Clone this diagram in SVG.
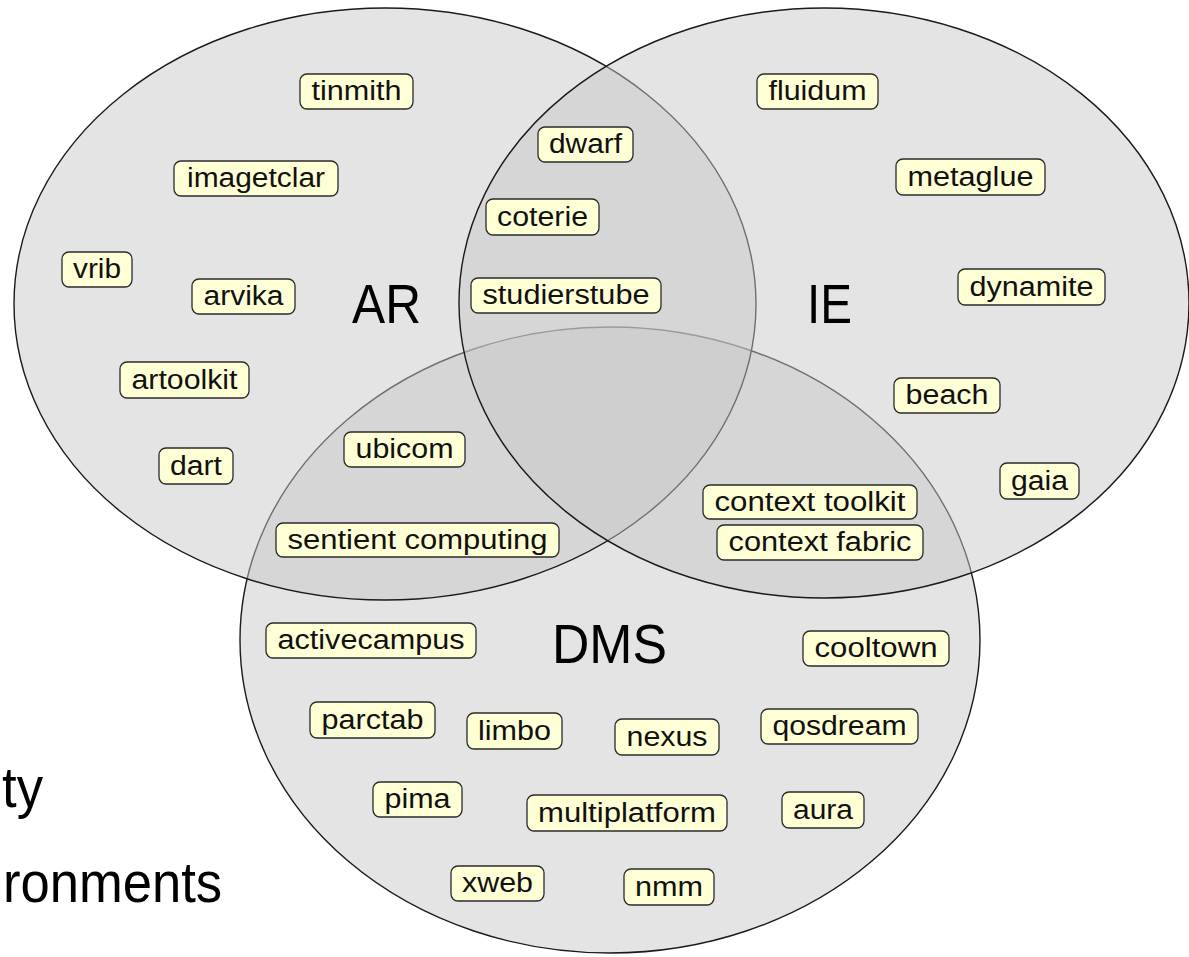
<svg xmlns="http://www.w3.org/2000/svg" width="1189" height="957" viewBox="0 0 1189 957">
<style>
.set{fill:#c8c8c8;fill-opacity:0.49;stroke:#1a1a1a;stroke-width:1.4}
.box{fill:#ffffd6;stroke:#2a2a2a;stroke-width:1.3}
.lbl{font-family:"Liberation Sans",Arial,sans-serif;font-size:27px;fill:#111;text-anchor:middle}
.big{font-family:"Liberation Sans",Arial,sans-serif;font-size:56px;fill:#000}
.side{font-family:"Liberation Sans",Arial,sans-serif;font-size:58px;fill:#000}
</style>
<rect width="1189" height="957" fill="#ffffff"/>
<g id="sets">
<ellipse id="DMS" class="set" cx="610" cy="640" rx="370" ry="313"/>
<ellipse id="AR" class="set" cx="385" cy="304" rx="371" ry="296"/>
<ellipse id="IE" class="set" cx="824" cy="303" rx="365" ry="295"/>
</g>
<g id="set-titles">
<text class="big" x="352" y="323" textLength="69" lengthAdjust="spacingAndGlyphs">AR</text>
<text class="big" x="807" y="323" textLength="45" lengthAdjust="spacingAndGlyphs">IE</text>
<text class="big" x="552" y="663" textLength="115" lengthAdjust="spacingAndGlyphs">DMS</text>
</g>
<g id="side-text">
<text class="side" x="2" y="807" textLength="41" lengthAdjust="spacingAndGlyphs">ty</text>
<text class="side" x="3" y="902" textLength="219" lengthAdjust="spacingAndGlyphs">ronments</text>
</g>
<g id="connectors"/>
<g id="n-tinmith"><rect class="box" x="300" y="74" width="113" height="35" rx="7"/><text class="lbl" x="356.5" y="100" textLength="90" lengthAdjust="spacingAndGlyphs">tinmith</text></g>
<g id="n-imagetclar"><rect class="box" x="174" y="161" width="164" height="35" rx="7"/><text class="lbl" x="256" y="187" textLength="138" lengthAdjust="spacingAndGlyphs">imagetclar</text></g>
<g id="n-vrib"><rect class="box" x="62" y="252" width="70" height="35" rx="7"/><text class="lbl" x="97" y="278" textLength="48" lengthAdjust="spacingAndGlyphs">vrib</text></g>
<g id="n-arvika"><rect class="box" x="192" y="279" width="103" height="35" rx="7"/><text class="lbl" x="243.5" y="305" textLength="80" lengthAdjust="spacingAndGlyphs">arvika</text></g>
<g id="n-artoolkit"><rect class="box" x="120" y="362" width="129" height="36" rx="7"/><text class="lbl" x="184.5" y="389" textLength="106" lengthAdjust="spacingAndGlyphs">artoolkit</text></g>
<g id="n-dart"><rect class="box" x="159" y="448" width="74" height="36" rx="7"/><text class="lbl" x="196" y="475" textLength="52" lengthAdjust="spacingAndGlyphs">dart</text></g>
<g id="n-dwarf"><rect class="box" x="538" y="127" width="95" height="35" rx="7"/><text class="lbl" x="585.5" y="153" textLength="73" lengthAdjust="spacingAndGlyphs">dwarf</text></g>
<g id="n-coterie"><rect class="box" x="486" y="199" width="113" height="36" rx="7"/><text class="lbl" x="542.5" y="226" textLength="91" lengthAdjust="spacingAndGlyphs">coterie</text></g>
<g id="n-studierstube"><rect class="box" x="471" y="278" width="190" height="35" rx="7"/><text class="lbl" x="566" y="304" textLength="167" lengthAdjust="spacingAndGlyphs">studierstube</text></g>
<g id="n-fluidum"><rect class="box" x="757" y="74" width="121" height="35" rx="7"/><text class="lbl" x="817.5" y="100" textLength="98" lengthAdjust="spacingAndGlyphs">fluidum</text></g>
<g id="n-metaglue"><rect class="box" x="896" y="159" width="149" height="36" rx="7"/><text class="lbl" x="970.5" y="186" textLength="126" lengthAdjust="spacingAndGlyphs">metaglue</text></g>
<g id="n-dynamite"><rect class="box" x="958" y="269" width="147" height="36" rx="7"/><text class="lbl" x="1031.5" y="296" textLength="124" lengthAdjust="spacingAndGlyphs">dynamite</text></g>
<g id="n-beach"><rect class="box" x="894" y="378" width="106" height="35" rx="7"/><text class="lbl" x="947" y="404" textLength="83" lengthAdjust="spacingAndGlyphs">beach</text></g>
<g id="n-gaia"><rect class="box" x="1000" y="463" width="79" height="36" rx="7"/><text class="lbl" x="1039.5" y="490" textLength="57" lengthAdjust="spacingAndGlyphs">gaia</text></g>
<g id="n-ubicom"><rect class="box" x="344" y="432" width="121" height="35" rx="7"/><text class="lbl" x="404.5" y="458" textLength="98" lengthAdjust="spacingAndGlyphs">ubicom</text></g>
<g id="n-sentient"><rect class="box" x="276" y="523" width="283" height="34" rx="7"/><text class="lbl" x="417.5" y="549" textLength="260" lengthAdjust="spacingAndGlyphs">sentient computing</text></g>
<g id="n-context-toolkit"><rect class="box" x="703" y="485" width="214" height="34" rx="7"/><text class="lbl" x="810" y="511" textLength="191" lengthAdjust="spacingAndGlyphs">context toolkit</text></g>
<g id="n-context-fabric"><rect class="box" x="717" y="525" width="206" height="35" rx="7"/><text class="lbl" x="820" y="551" textLength="183" lengthAdjust="spacingAndGlyphs">context fabric</text></g>
<g id="n-activecampus"><rect class="box" x="266" y="623" width="210" height="35" rx="7"/><text class="lbl" x="371" y="649" textLength="187" lengthAdjust="spacingAndGlyphs">activecampus</text></g>
<g id="n-cooltown"><rect class="box" x="803" y="631" width="146" height="35" rx="7"/><text class="lbl" x="876" y="657" textLength="123" lengthAdjust="spacingAndGlyphs">cooltown</text></g>
<g id="n-parctab"><rect class="box" x="310" y="702" width="125" height="36" rx="7"/><text class="lbl" x="372.5" y="729" textLength="102" lengthAdjust="spacingAndGlyphs">parctab</text></g>
<g id="n-limbo"><rect class="box" x="467" y="713" width="95" height="36" rx="7"/><text class="lbl" x="514.5" y="740" textLength="73" lengthAdjust="spacingAndGlyphs">limbo</text></g>
<g id="n-nexus"><rect class="box" x="615" y="719" width="104" height="36" rx="7"/><text class="lbl" x="667" y="746" textLength="81" lengthAdjust="spacingAndGlyphs">nexus</text></g>
<g id="n-qosdream"><rect class="box" x="761" y="709" width="157" height="35" rx="7"/><text class="lbl" x="839.5" y="735" textLength="134" lengthAdjust="spacingAndGlyphs">qosdream</text></g>
<g id="n-pima"><rect class="box" x="373" y="782" width="89" height="35" rx="7"/><text class="lbl" x="417.5" y="808" textLength="66" lengthAdjust="spacingAndGlyphs">pima</text></g>
<g id="n-multiplatform"><rect class="box" x="527" y="795" width="200" height="36" rx="7"/><text class="lbl" x="627" y="822" textLength="178" lengthAdjust="spacingAndGlyphs">multiplatform</text></g>
<g id="n-aura"><rect class="box" x="782" y="792" width="82" height="36" rx="7"/><text class="lbl" x="823" y="819" textLength="60" lengthAdjust="spacingAndGlyphs">aura</text></g>
<g id="n-xweb"><rect class="box" x="451" y="866" width="93" height="35" rx="7"/><text class="lbl" x="497.5" y="892" textLength="71" lengthAdjust="spacingAndGlyphs">xweb</text></g>
<g id="n-nmm"><rect class="box" x="624" y="869" width="90" height="36" rx="7"/><text class="lbl" x="669" y="896" textLength="68" lengthAdjust="spacingAndGlyphs">nmm</text></g>
</svg>
